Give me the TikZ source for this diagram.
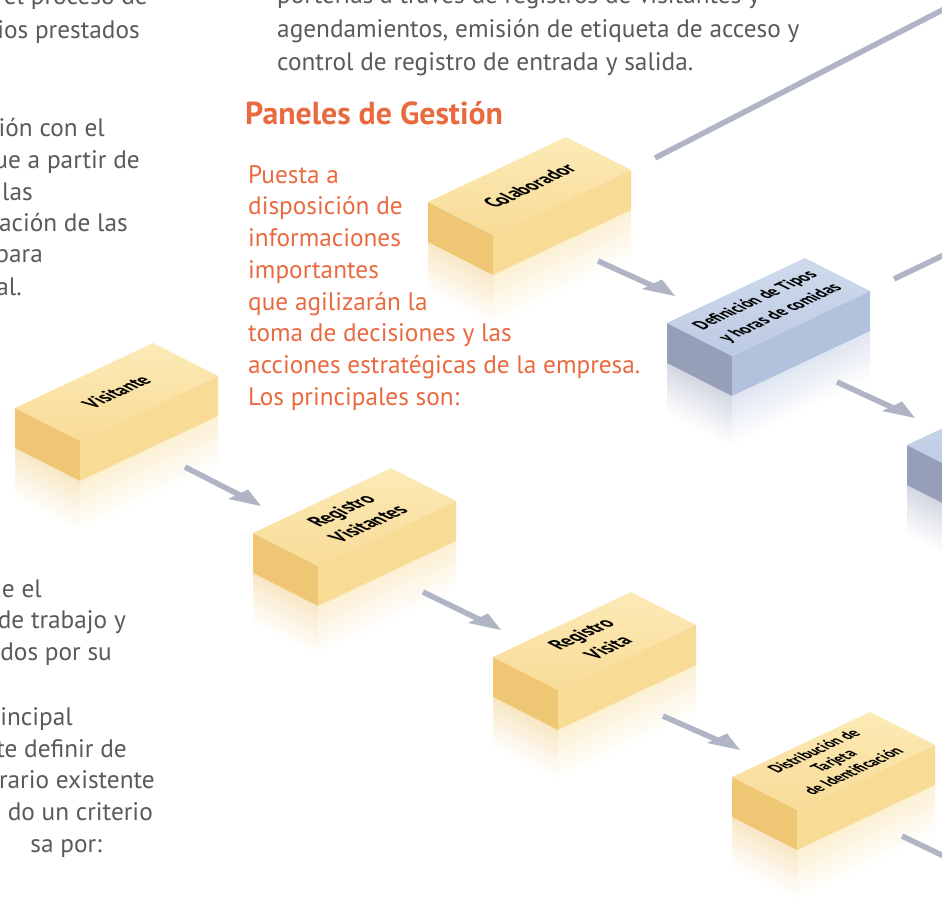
\documentclass[tikz,border=0pt]{standalone}
\usepackage{fontspec}
\setmainfont{PT Sans}
\newfontfamily\cajafont[FakeStretch=0.8]{PT Sans}
\usepackage{tikz}
\usetikzlibrary{positioning}
\usepackage{xcolor}

\definecolor{textoGris}{HTML}{5A5A5C}
\definecolor{naranja}{HTML}{EA6A40}
\definecolor{amarTopA}{HTML}{FCEAB6}
\definecolor{amarTopB}{HTML}{F8DC98}
\definecolor{amarLado}{HTML}{EFC674}
\definecolor{amarFrente}{HTML}{F8DB95}
\definecolor{azulTopA}{HTML}{CFDAEC}
\definecolor{azulTopB}{HTML}{BCCAE3}
\definecolor{azulLado}{HTML}{959FB8}
\definecolor{azulFrente}{HTML}{B2C1DC}
\definecolor{flechaGris}{HTML}{B0B5C6}

% bloque 3D: nombre, esquina izquierda, color, letra, interlinea, texto
\newcommand{\bloque}[6]{%
  \begin{scope}[shift={#2}]
    % reflejo
    \foreach \i in {0,...,11} {
      \pgfmathsetmacro{\p}{40-3.3*\i}
      \fill[#3Lado!\p!white] (0,40+4*\i) -- (65,73+4*\i) -- (65,78+4*\i) -- (0,45+4*\i) -- cycle;
      \fill[#3Frente!\p!white] (65,73+4*\i) -- (203,8+4*\i) -- (203,13+4*\i) -- (65,78+4*\i) -- cycle;
    }
    \fill[#3Lado] (0,0) -- (65,33) -- (65,73) -- (0,40) -- cycle;
    \fill[#3Frente] (65,33) -- (203,-32) -- (203,8) -- (65,73) -- cycle;
    \shade[top color=#3TopA, bottom color=#3TopB] (0,0) -- (65,33) -- (203,-32) -- (138,-65) -- cycle;
    \node[cajatexto, font=\cajafont\bfseries\fontsize{#4}{#5}\selectfont,
      cm={0.905,0.426,-0.892,0.453,(0,0)}] (#1) at (101.5,-16) {#6};
    \coordinate (#1-sal) at (170,59);
    \coordinate (#1-ent) at (8,-27);
    \coordinate (#1-arr) at (227,-44);
  \end{scope}
}

% flecha plana (punta en el plano del piso)
\newcommand{\flecha}[2]{%
  \draw[linea, shorten >=18pt] (#1) -- (#2);
  \fill[punta] (#2) -- ++(-13,-16.5) -- ++(-20,9.5) -- cycle;
}

\begin{document}
\begin{tikzpicture}[x=1pt, y=-1pt]
    \tikzstyle{gris}=[text=textoGris, inner sep=0pt, font=\fontsize{25.3}{32}\selectfont]
    \tikzstyle{anaranjado}=[text=naranja, inner sep=0pt, font=\fontsize{25.3}{32}\selectfont]
    \tikzstyle{titulo}=[text=naranja, inner sep=0pt, font=\bfseries\fontsize{31.8}{36}\selectfont]
    \tikzstyle{cajatexto}=[align=center, inner sep=0pt]
    \tikzstyle{linea}=[draw=flechaGris, line width=5.5pt]
    \tikzstyle{punta}=[fill=flechaGris]

    \useasboundingbox (0,0) rectangle (942,902);
    \fill[white] (0,0) rectangle (942,902);
    \clip (0,0) rectangle (942,902);

    % texto de la izquierda
    \foreach \x/\y/\t [count=\i] in {148/5/r el proceso de, 140/38/ios prestados,
        105/136/ción con el, 140/168/ue a partir de, 33/200/las, 128/231/ración de las,
        43/262/para, 22/295/al., 42/597/ue el, 126/628/de trabajo y, 112/660/dos por su,
        73/725/rincipal, 127/757/te definir de, 155/788/rario existente,
        153/820/do un criterio, 102/852/sa por:}
      \node[gris, anchor=base east] (izq\i) at (\x,\y) {\t};

    % texto de arriba
    \node[gris, anchor=base west] (arr1) at (277,4) {porterías a través de registros de visitantes y};
    \node[gris, anchor=base west] (arr2) at (277,37) {agendamientos, emisión de etiqueta de acceso y};
    \node[gris, anchor=base west] (arr3) at (277,70) {control de registro de entrada y salida.};

    \node[titulo, anchor=base west] (paneles) at (245,124) {Paneles de Gestión};
    \foreach \t [count=\i from 0] in {Puesta a, disposición de, informaciones, importantes,
        que agilizarán la, toma de decisiones y las, acciones estratégicas de la empresa.,
        Los principales son:}
      \node[anaranjado, anchor=base west] (nar\i) at (248,183+31.75*\i) {\t};

    % bloques
    \bloque{col}{(428,202)}{amar}{22}{27}{Colaborador}
    \bloque{def}{(667,323)}{azul}{19.5}{28}{Definición de Tipos\\y horas de comidas}
    \bloque{sig}{(907,445)}{azul}{19}{24}{}
    \bloque{vis}{(15,408)}{amar}{21.5}{27}{Visitante}
    \bloque{regv}{(253,533)}{amar}{22.5}{30}{Registro\\Visitantes}
    \bloque{regvis}{(493,657)}{amar}{22}{30}{Registro\\Visita}
    \bloque{dist}{(732,777)}{amar}{18}{22}{Distribución de\\Tarjeta\\de Identificación}

    \coordinate (fueraA) at (1055,-48);
    \coordinate (fueraB) at (1100,180);
    \coordinate (fueraC) at (979,873);

    \flecha{vis-sal}{regv-ent}
    \flecha{regv-sal}{regvis-ent}
    \flecha{regvis-sal}{dist-ent}
    \flecha{col-sal}{def-ent}
    \flecha{def-sal}{sig-ent}
    \flecha{dist-sal}{fueraC}
    \path[linea]
    (col-arr) edge (fueraA)
    (def-arr) edge (fueraB);
\end{tikzpicture}
\end{document}
